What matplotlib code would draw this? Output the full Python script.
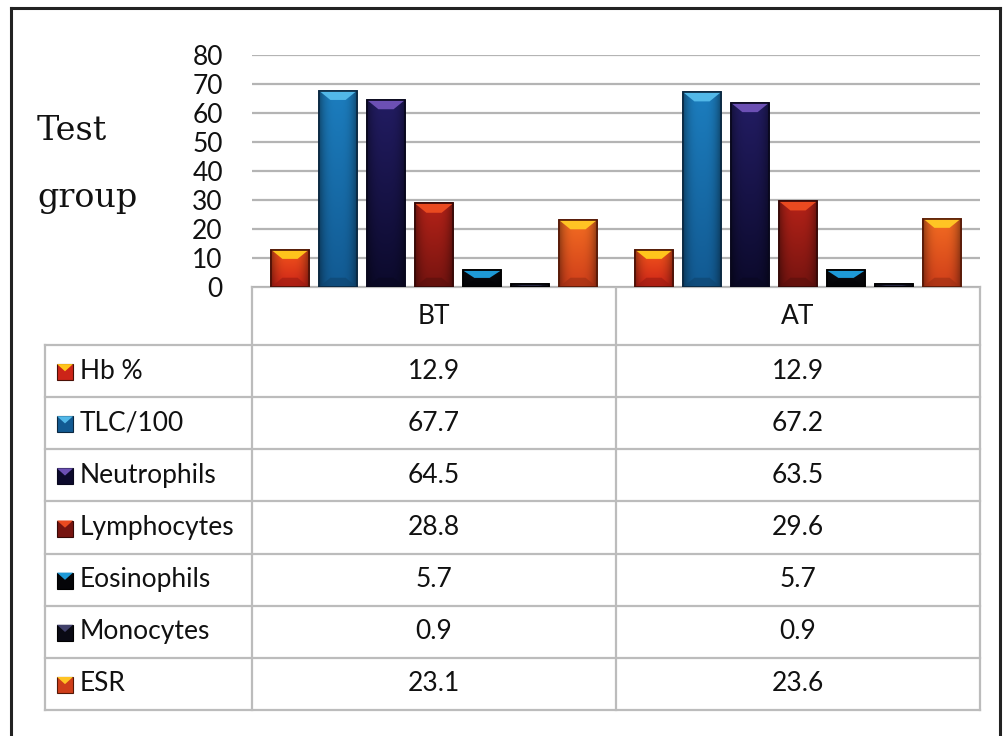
import numpy as np
import matplotlib
matplotlib.use("Agg")
import matplotlib.pyplot as plt
from matplotlib.patches import Polygon, Rectangle
from matplotlib.colors import to_rgb

# blood picture, test group, before (BT) / after (AT) treatment
groups = ["BT", "AT"]
params = ["Hb %", "TLC/100", "Neutrophils", "Lymphocytes", "Eosinophils", "Monocytes", "ESR"]
bt_vals = [12.9, 67.7, 64.5, 28.8, 5.7, 0.9, 23.1]
at_vals = [12.9, 67.2, 63.5, 29.6, 5.7, 0.9, 23.6]
y_ticks = [0, 10, 20, 30, 40, 50, 60, 70, 80]

# (face top, face bottom, bevel, edge) per parameter
styles = [
    ("#f4561c", "#cc2418", "#ffc41c", "#4a1006"),
    ("#1c7dbe", "#125a92", "#52b8e8", "#0a2740"),
    ("#221c62", "#0c0a2c", "#6c50b4", "#08071c"),
    ("#b42218", "#761410", "#ea4a20", "#360806"),
    ("#0c0c12", "#050508", "#1e9ad8", "#000000"),
    ("#1a1a30", "#0a0a14", "#40406a", "#000000"),
    ("#f36c22", "#cf3e1a", "#ffc424", "#561806"),
]

FONT = "Lato"
FS = 19
W, H = 1006, 736
fig = plt.figure(figsize=(W / 100, H / 100), dpi=100)
fig.patch.set_facecolor("white")

# pixel helpers
def fx(px):
    return px / W

def fy(py):
    return 1 - py / H

# bar chart area
ax = fig.add_axes([fx(252), fy(287), fx(980) - fx(252), fy(55) - fy(287)])
ax.set_ylim(0, 80)
ax.set_xlim(-0.5, 1.5)
ax.set_yticks(y_ticks)
ax.set_yticklabels([str(t) for t in y_ticks], fontsize=FS, family=FONT, color="#111111")
ax.tick_params(axis="y", length=0, pad=21)
ax.set_xticks([])
for s in ax.spines.values():
    s.set_visible(False)
ax.grid(axis="y", color="#b4b4b4", linewidth=1.6)
ax.set_axisbelow(True)

n = len(params)
step = 48 / 364
width = 38 / 364
bevel_h = 3.2
values = np.array([bt_vals, at_vals])


def shade(c, f):
    r = np.array(to_rgb(c))
    return np.clip(r * f, 0, 1)


for j in range(n):
    top_c, bot_c, bev_c, edge_c = styles[j]
    xs = np.arange(len(groups)) + (j - (n - 1) / 2) * step
    bars = ax.bar(xs, values[:, j], width=width, color=top_c,
                  edgecolor=edge_c, linewidth=1.2, zorder=3)
    for b in bars:
        x0, w, h = b.get_x(), b.get_width(), b.get_height()
        # face: vertical gradient, darker toward the sides
        ny, nx = 40, 20
        t = np.linspace(0, 1, ny)[:, None]
        side = 1 - 0.35 * np.abs(np.linspace(-1, 1, nx))[None, :] ** 3
        img = (np.array(to_rgb(top_c))[None, None, :] * (1 - t[..., None])
               + np.array(to_rgb(bot_c))[None, None, :] * t[..., None])
        img = np.clip(img * side[..., None], 0, 1)
        im = ax.imshow(img, extent=[x0, x0 + w, 0, h], origin="upper",
                       aspect="auto", zorder=3.1, interpolation="bilinear")
        im.set_clip_path(b)
        bh = min(bevel_h, h * 0.45)
        ins = w * 0.3
        # light bevel on top
        ax.add_patch(Polygon([(x0, h), (x0 + w, h), (x0 + w - ins, h - bh),
                              (x0 + ins, h - bh)], closed=True,
                             facecolor=bev_c, edgecolor="none", zorder=3.2))
        # dark bevel at the foot
        ax.add_patch(Polygon([(x0, 0), (x0 + w, 0), (x0 + w - ins, bh),
                              (x0 + ins, bh)], closed=True,
                             facecolor=shade(bot_c, 0.75), edgecolor="none",
                             alpha=0.6, zorder=3.2))
        ax.add_patch(Rectangle((x0, 0), w, h, facecolor="none",
                               edgecolor=edge_c, linewidth=1.2, zorder=3.3))

# overlay in pixel space: frame, data table, side label
ov = fig.add_axes([0, 0, 1, 1], zorder=-1)
ov.set_xlim(0, W)
ov.set_ylim(H, 0)
ov.axis("off")

ov.plot([11, 11], [H + 5, 8], color="#222222", lw=2.2, solid_capstyle="projecting")
ov.plot([11, 1000], [8, 8], color="#222222", lw=2.2, solid_capstyle="projecting")
ov.plot([1000, 1000], [8, H + 5], color="#222222", lw=2.2, solid_capstyle="projecting")

grid_c = "#bcbcbc"
lw = 1.6
col_x = [252, 616, 980]
head_top, head_bot = 287, 345
row_h = (710 - head_bot) / n
table_left = 45

# header row
ov.plot([252, 980], [head_top, head_top], color=grid_c, lw=lw)
for cx in col_x:
    ov.plot([cx, cx], [head_top, 710], color=grid_c, lw=lw)
ov.plot([table_left, table_left], [head_bot, 710], color=grid_c, lw=lw)
for i in range(n + 1):
    yy = head_bot + i * row_h
    ov.plot([table_left, 980], [yy, yy], color=grid_c, lw=lw)

centers = [(col_x[k] + col_x[k + 1]) / 2 for k in range(len(groups))]
for k, g in enumerate(groups):
    ov.text(centers[k], (head_top + head_bot) / 2 + 1, g, ha="center", va="center",
            fontsize=FS, family=FONT, color="#111111")

for i, p in enumerate(params):
    yc = head_bot + (i + 0.5) * row_h
    top_c, bot_c, bev_c, edge_c = styles[i]
    sq = 16
    mx, my = 57, yc - sq / 2 + 1
    ov.add_patch(Rectangle((mx, my), sq, sq, facecolor=bot_c, edgecolor=edge_c, lw=0.8))
    ov.add_patch(Polygon([(mx, my), (mx + sq, my), (mx + sq / 2, my + sq * 0.45)],
                         closed=True, facecolor=bev_c, edgecolor="none"))
    ov.text(80, yc, p, ha="left", va="center", fontsize=FS, family=FONT, color="#111111")
    for k in range(len(groups)):
        ov.text(centers[k], yc, f"{values[k, i]:.1f}", ha="center", va="center",
                fontsize=FS, family=FONT, color="#111111")

ov.text(37, 140, "Test", ha="left", va="baseline", fontsize=24,
        family="DejaVu Serif", color="#111111")
ov.text(37, 207, "group", ha="left", va="baseline", fontsize=24,
        family="DejaVu Serif", color="#111111")

fig.savefig("out.png", dpi=100, facecolor="white")
